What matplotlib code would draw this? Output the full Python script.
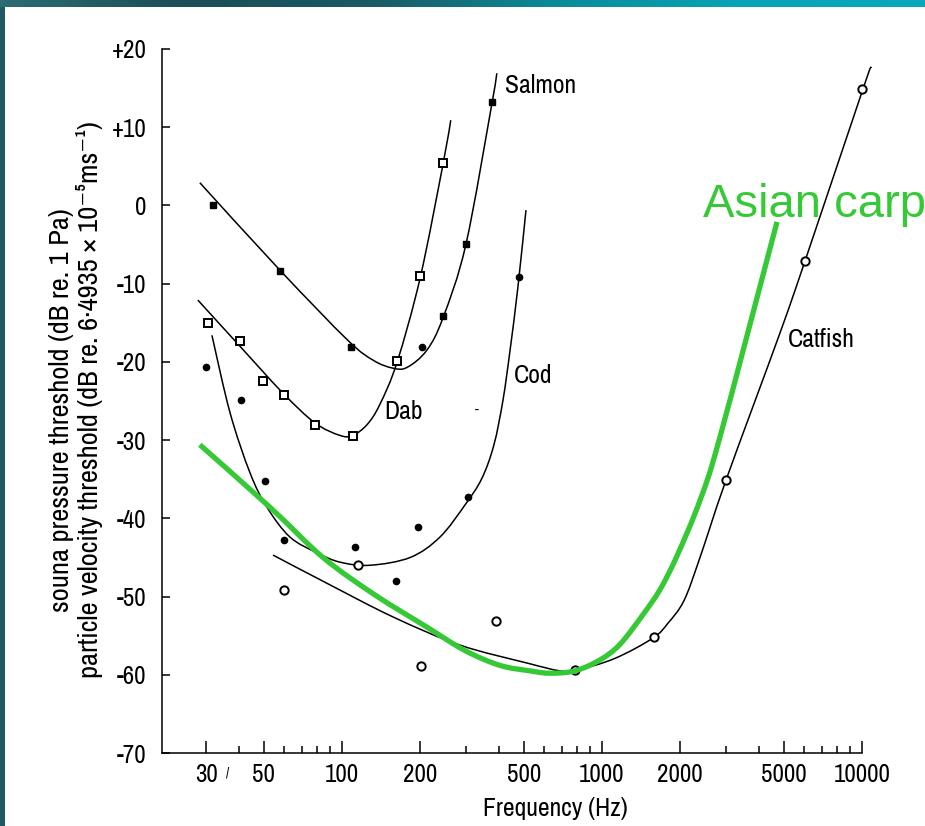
import numpy as np
import matplotlib.pyplot as plt
from matplotlib import font_manager as fm
from matplotlib.path import Path
from matplotlib.patches import Rectangle, PathPatch
from matplotlib.colors import LinearSegmentedColormap

# the scan is lettered in a narrow grotesque; use one if it is there
names = {f.name for f in fm.fontManager.ttflist}
if 'Archivo Narrow' in names:
    plt.rcParams['font.family'] = ['Archivo Narrow', 'DejaVu Sans']
    fs_tick, fs, fs_y = 18, 18.5, 20.5
else:
    plt.rcParams['font.family'] = ['Liberation Sans', 'DejaVu Sans']
    fs_tick, fs, fs_y = 14.5, 14.5, 15.5

major_f = [30, 50, 100, 200, 500, 1000, 2000, 5000, 10000]
major_lbl = ['30', '50', '100', '200', '500', '1000', '2000', '5000', '10000']
minor_f = [40, 60, 70, 80, 90, 300, 400, 600, 700, 800, 900,
           3000, 4000, 6000, 7000, 8000, 9000]
y_ticks = [20, 10, 0, -10, -20, -30, -40, -50, -60, -70]
y_lbl = ['+20', '+10', '0', '-10', '-20', '-30', '-40', '-50', '-60', '-70']

# fitted curves (Hz, dB)
salmon_f = [28.4, 57.8, 105, 132, 157, 178, 212, 245, 300, 378, 394]
salmon_db = [2.9, -8.3, -17.2, -19.8, -20.8, -20.7, -18.5, -14.3, -4.9, 13.2, 16.9]

dab_f = [27.9, 40.5, 59.3, 78.7, 98.2, 110, 125, 140, 163, 200, 245, 262]
dab_db = [-12.1, -18.0, -24.0, -27.8, -29.4, -29.4, -28.0, -25.4, -20.0, -9.2, 5.4, 10.9]

cod_f = [31.6, 37.1, 44.3, 51.5, 63.1, 80.1, 98.2, 128, 183, 238, 297, 345, 384, 416,
         443, 475, 510]
cod_db = [-16.6, -26.5, -34.2, -38.6, -42.4, -44.4, -45.6, -46.0, -45.0, -42.4, -38.3,
          -34.9, -30.6, -24.9, -18.5, -10.4, -0.6]

catfish_f = [54.3, 87.5, 157, 284, 515, 689, 801, 1122, 1571, 1794, 2068, 2382, 3000,
             4837, 6037, 10090, 10830]
catfish_db = [-44.7, -48.3, -52.6, -56.2, -58.5, -59.5, -59.4, -57.9, -55.3, -53.4, -50.5,
              -45.0, -35.1, -16.3, -7.1, 14.9, 17.7]

carp_f = [28.4, 52.9, 84.5, 134, 212, 297, 405, 529, 631, 787, 982, 1173, 1438, 1672,
          1943, 2382, 2843, 4711]
carp_db = [-30.6, -38.6, -45.0, -49.8, -53.9, -56.9, -58.8, -59.5, -59.8, -59.5, -58.1,
           -56.1, -52.3, -49.1, -44.8, -37.7, -29.6, -2.1]

# measured points
salmon_pf = [32, 58, 108, 244, 300, 378]
salmon_pdb = [0.1, -8.4, -18.1, -14.1, -4.9, 13.2]

dab_pf = [30.5, 40.6, 49.6, 59.8, 78.7, 110, 163, 200, 245]
dab_pdb = [-15.0, -17.3, -22.5, -24.2, -28.1, -29.5, -19.9, -9.0, 5.4]

cod_pf = [30, 41, 50.6, 59.8, 112, 162, 196, 203, 305, 480]
cod_pdb = [-20.7, -24.9, -35.2, -42.8, -43.7, -48.0, -41.1, -18.1, -37.3, -9.2]

catfish_pf = [60, 115, 201, 391, 787, 1585, 3000, 6040, 10000]
catfish_pdb = [-49.2, -46.0, -58.9, -53.1, -59.4, -55.2, -35.1, -7.1, 14.9]


def smooth_curve(f, d, **kw):
    # bezier segments through the read points, built in log-frequency space
    pts = np.column_stack([np.log10(f), d])
    verts = [pts[0]]
    codes = [Path.MOVETO]
    n = len(pts)
    for i in range(n - 1):
        p0 = pts[max(i - 1, 0)]
        p1, p2 = pts[i], pts[i + 1]
        p3 = pts[min(i + 2, n - 1)]
        verts += [p1 + (p2 - p0) / 6, p2 - (p3 - p1) / 6, p2]
        codes += [Path.CURVE4] * 3
    verts = np.array(verts)
    verts[:, 0] = 10 ** verts[:, 0]
    return PathPatch(Path(verts, codes), fill=False, clip_on=False, **kw)


W, H = 925, 826
fig = plt.figure(figsize=(W / 100, H / 100), dpi=100)
fig.patch.set_facecolor('#1f5a63')

# slide background strip along the top
band = fig.add_axes([0, 1 - 7 / H, 1, 7 / H])
cmap = LinearSegmentedColormap.from_list(
    'band', ['#2d6b73', '#1b4d57', '#1a5a64', '#0b8a99', '#06a4b5', '#09a9ba'])
band.imshow(np.linspace(0, 1, 256)[None, :], aspect='auto', cmap=cmap, extent=[0, 1, 0, 1])
band.axis('off')
fig.add_artist(Rectangle((5 / W, 0), 1, 1 - 7 / H, transform=fig.transFigure,
                         facecolor='white', edgecolor='none', zorder=-1))

ax = fig.add_axes([162 / W, 1 - 753 / H, 700 / W, 704 / H])
ax.patch.set_alpha(0)
ax.set_xscale('log')
ax.set_xlim(10 ** (2 - 180 / 260), 10000)
ax.set_ylim(-70, 20)

for s in ['top', 'right']:
    ax.spines[s].set_visible(False)
for s in ['left', 'bottom']:
    ax.spines[s].set_linewidth(1.1)

ax.set_xticks(major_f)
ax.set_xticklabels(major_lbl)
ax.set_xticks(minor_f, minor=True)
ax.xaxis.set_minor_formatter(plt.NullFormatter())
ax.set_yticks(y_ticks)
ax.set_yticklabels(y_lbl)
ax.tick_params(axis='x', which='major', direction='in', length=9, width=1.1, pad=7, labelsize=fs_tick)
ax.tick_params(axis='x', which='minor', direction='in', length=5, width=1.1)
ax.tick_params(axis='y', which='major', direction='in', length=6, width=1.1, pad=11, labelsize=fs_tick)
ax.tick_params(axis='y', which='minor', left=False)

for f, d in [(salmon_f, salmon_db), (dab_f, dab_db), (cod_f, cod_db), (catfish_f, catfish_db)]:
    ax.add_patch(smooth_curve(f, d, edgecolor='black', lw=1.1, zorder=2))

ax.plot(salmon_pf, salmon_pdb, 's', ms=5, color='black', clip_on=False, zorder=3)
ax.plot(cod_pf, cod_pdb, 'o', ms=4.5, color='black', clip_on=False, zorder=3)
ax.plot(dab_pf, dab_pdb, 's', ms=6, mfc='white', mec='black', mew=1.4, clip_on=False, zorder=3)
ax.plot(catfish_pf, catfish_pdb, 'o', ms=6, mfc='white', mec='black', mew=1.4, clip_on=False, zorder=3)

green = '#36c936'
ax.add_patch(smooth_curve(carp_f, carp_db, edgecolor=green, lw=3.8, capstyle='butt', zorder=4))

lab = dict(fontsize=fs, color='black', va='center')
ax.text(424, 15.3, 'Salmon', ha='left', **lab)
ax.text(173, -26.4, 'Dab', ha='center', **lab)
ax.text(543, -21.7, 'Cod', ha='center', **lab)
ax.text(6950, -17.2, 'Catfish', ha='center', **lab)
ax.text(331, -26.3, '-', ha='center', fontsize=10, va='center')

fig.text(703 / W, 1 - 217 / H, 'Asian carp', color=green, fontsize=34,
         family='Liberation Sans', va='baseline', ha='left')

fig.text(228 / W, 1 - 773 / H, '/', fontsize=10, ha='center', va='center')
fig.text(555 / W, 1 - 808 / H, 'Frequency (Hz)', fontsize=fs, ha='center', va='center')
fig.text(61 / W, 1 - 410 / H, 'souna pressure threshold (dB re. 1 Pa)',
         fontsize=fs_y, rotation=90, ha='center', va='center')
fig.text(90 / W, 1 - 400 / H,
         'particle velocity threshold (dB re. 6·4935 × 10⁻⁵ms⁻¹)',
         fontsize=fs_y, rotation=90, ha='center', va='center')

fig.savefig('out.png', dpi=100, facecolor=fig.get_facecolor())
